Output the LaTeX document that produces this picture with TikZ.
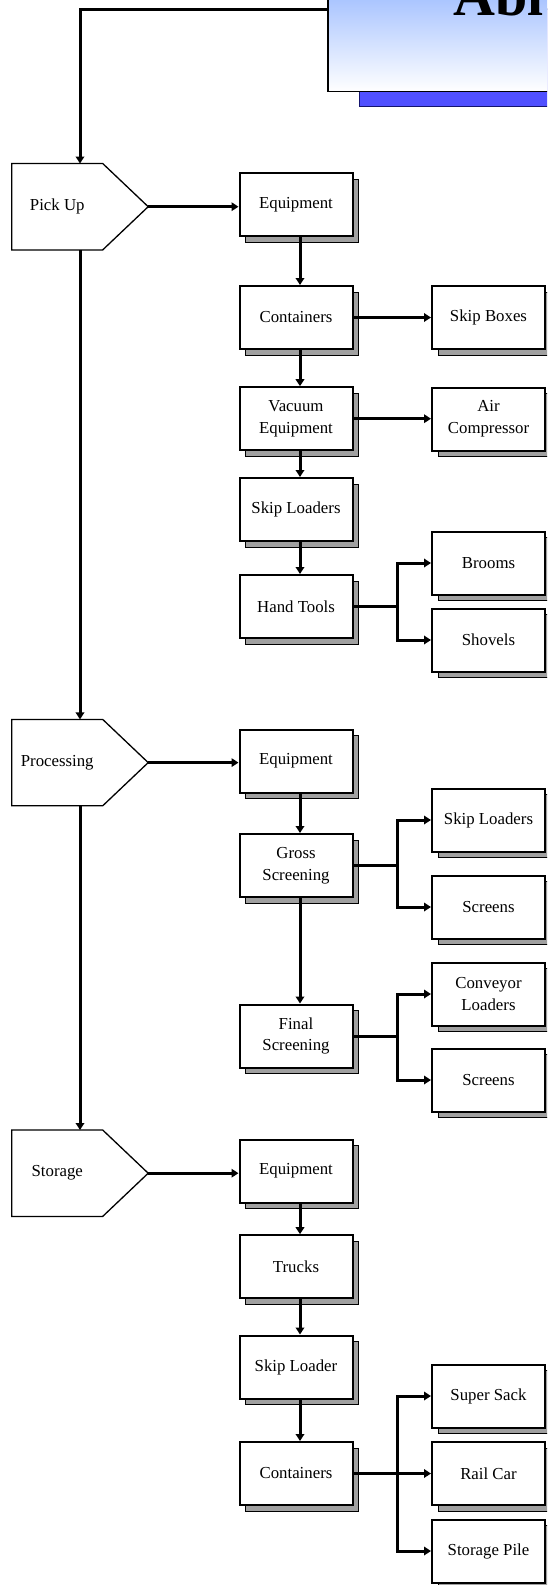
\documentclass[tikz,border=0pt]{standalone}
\usepackage{fontspec}
\setmainfont{Liberation Serif}
\usetikzlibrary{arrows.meta,shadows,calc}
\definecolor{shadowgray}{RGB}{160,160,160}
\definecolor{titletop}{RGB}{166,194,255}
\definecolor{titleshadow}{RGB}{80,80,255}
\definecolor{titleedge}{RGB}{20,20,110}

\begin{document}
\begin{tikzpicture}[x=1pt,y=-1pt,
  every node/.style={font=\fontsize{16.8}{21.7}\selectfont, align=center, inner sep=0pt},
  item/.style={draw=black, line width=2pt, fill=white,
    minimum width=113pt, minimum height=63pt,
    general shadow={shadow xshift=6pt, shadow yshift=-6pt,
      fill=shadowgray, draw=black, line width=1pt}},
  stage/.style={minimum width=90.5pt, minimum height=86pt},
  stageline/.style={line width=1.3pt, line join=miter},
  conn/.style={line width=3pt, line join=miter, -{Triangle[length=7pt,width=8.5pt]}},
]
\useasboundingbox (0,0) rectangle (547,1585);
\clip (0,0) rectangle (547,1585);

% title banner with its blue offset shadow
\node[draw=black, line width=1.5pt, top color=titletop, bottom color=white,
  minimum width=273pt, minimum height=97.4pt, anchor=south west,
  general shadow={shadow xshift=31.6pt, shadow yshift=-14.6pt,
    fill=titleshadow, draw=titleedge, line width=1.5pt}]
  (title) at (327,92.4) {};
\node[font=\fontsize{58}{58}\selectfont\bfseries, anchor=base west]
  (titletext) at (453,15.5) {Abl};

% stages on the left
\node[stage] (pu) at (57.25,206.7) {Pick Up};
\node[stage] (pr) at (57.25,762.6) {Processing};
\node[stage] (st) at (57.25,1173.2) {Storage};
\draw[stageline] (pu.north west) -- (pu.north east) -- ($(pu.east)+(45.5,0)$) coordinate (putip)
  -- (pu.south east) -- (pu.south west) -- cycle;
\draw[stageline] (pr.north west) -- (pr.north east) -- ($(pr.east)+(45.5,0)$) coordinate (prtip)
  -- (pr.south east) -- (pr.south west) -- cycle;
\draw[stageline] (st.north west) -- (st.north east) -- ($(st.east)+(45.5,0)$) coordinate (sttip)
  -- (st.south east) -- (st.south west) -- cycle;

% middle column
\node[item] (eq1) at (296,204.5) {Equipment};
\node[item] (cont1) at (296,317.5) {Containers};
\node[item] (vac) at (296,418.7) {Vacuum\\Equipment};
\node[item] (skl1) at (296,509.5) {Skip Loaders};
\node[item] (hand) at (296,606.5) {Hand Tools};
\node[item] (eq2) at (296,761) {Equipment};
\node[item] (gross) at (296,865.5) {Gross\\Screening};
\node[item] (final) at (296,1036) {Final\\Screening};
\node[item] (eq3) at (296,1171) {Equipment};
\node[item] (trucks) at (296,1266.7) {Trucks};
\node[item] (skl3) at (296,1367) {Skip Loader};
\node[item] (cont3) at (296,1473.5) {Containers};

% right column
\node[item] (skipbox) at (488.5,317.5) {Skip Boxes};
\node[item] (aircomp) at (488.5,419) {Air\\Compressor};
\node[item] (brooms) at (488.5,563) {Brooms};
\node[item] (shovels) at (488.5,640) {Shovels};
\node[item] (skl2) at (488.5,820) {Skip Loaders};
\node[item] (screens1) at (488.5,907) {Screens};
\node[item] (conv) at (488.5,994) {Conveyor\\Loaders};
\node[item] (screens2) at (488.5,1080) {Screens};
\node[item] (sack) at (488.5,1396) {Super Sack};
\node[item] (rail) at (488.5,1473.5) {Rail Car};
\node[item] (pile) at (488.5,1551) {Storage Pile};

% main spine
\coordinate (corner) at (80,9);
\coordinate (fork) at (397,0);
\draw[conn] (title.west |- corner) -- (corner) -- (pu.north -| corner);
\draw[conn] (pu.south -| corner) -- (pr.north -| corner);
\draw[conn] (pr.south -| corner) -- (st.north -| corner);

% stage to first equipment box
\draw[conn] (putip) -- (putip -| eq1.west);
\draw[conn] (prtip) -- (prtip -| eq2.west);
\draw[conn] (sttip) -- (sttip -| eq3.west);

% vertical links in the middle column
\foreach \a/\b in {eq1/cont1, cont1/vac, vac/skl1, skl1/hand,
                   eq2/gross, gross/final,
                   eq3/trucks, trucks/skl3, skl3/cont3}
  \draw[conn] ([xshift=4pt]\a.south) -- ([xshift=4pt]\b.north);

% single links to the right
\draw[conn] (cont1.east) -- (skipbox.west);
\draw[conn] (vac.east) -- (vac.east -| aircomp.west);

% forks to the right
\draw[conn] (hand.east) -- (hand.east -| fork) |- (brooms.west);
\draw[conn] (hand.east -| fork) |- (shovels.west);
\draw[conn] (gross.east) -- (gross.east -| fork) |- (skl2.west);
\draw[conn] (gross.east -| fork) |- (screens1.west);
\draw[conn] (final.east) -- (final.east -| fork) |- (conv.west);
\draw[conn] (final.east -| fork) |- (screens2.west);
\draw[conn] (cont3.east) -- (rail.west);
\draw[conn] (cont3.east -| fork) |- (sack.west);
\draw[conn] (cont3.east -| fork) |- (pile.west);
\end{tikzpicture}
\end{document}
